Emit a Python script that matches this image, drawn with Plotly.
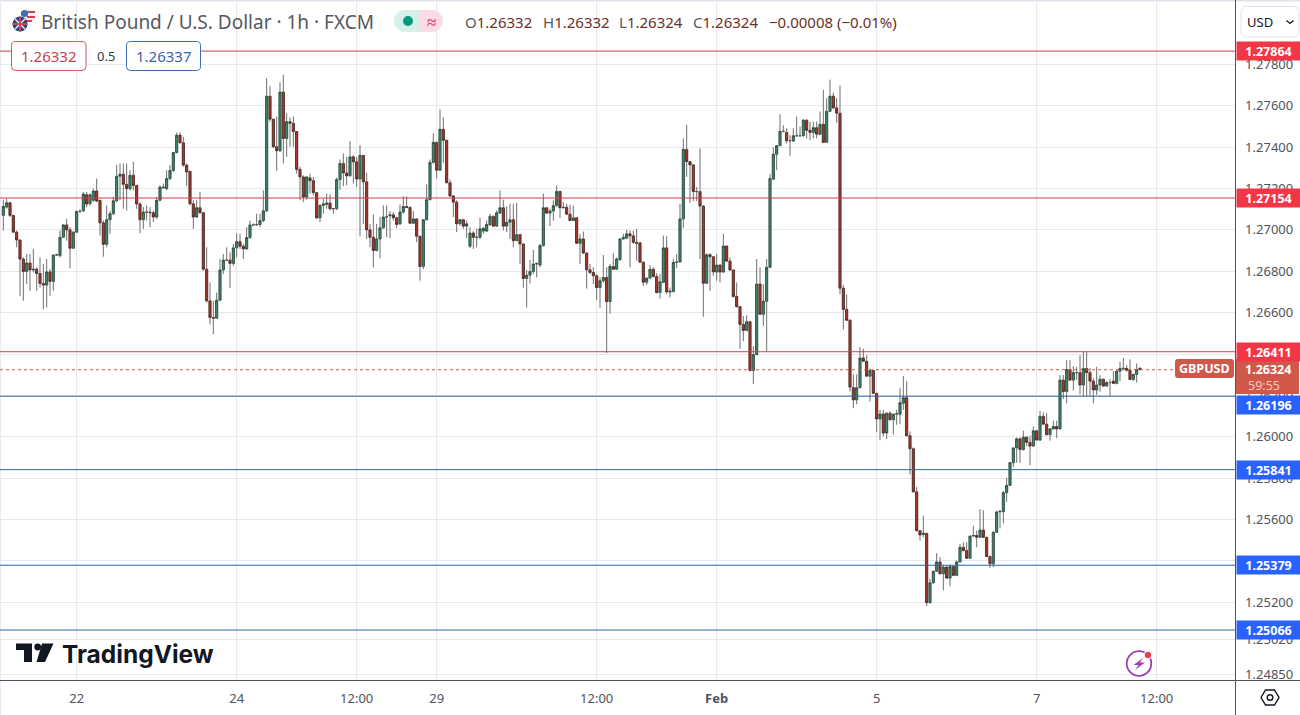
import plotly.graph_objects as go

opens = [
    1.27070,1.27110,1.27131,1.27070,1.26989,1.26951,1.26859,1.26799,1.26840,1.26806,
    1.26810,1.26789,1.26741,1.26733,1.26797,1.26751,1.26878,1.26875,1.26964,1.27024,
    1.27000,1.26911,1.26989,1.27089,1.27092,1.27170,1.27126,1.27143,1.27188,1.27143,
    1.27034,1.26930,1.27049,1.27078,1.27141,1.27259,1.27269,1.27220,1.27199,1.27264,
    1.27215,1.27125,1.27049,1.27086,1.27086,1.27083,1.27062,1.27143,1.27207,1.27199,
    1.27248,1.27287,1.27374,1.27458,1.27421,1.27313,1.27283,1.27126,1.27062,1.27107,
    1.27083,1.26810,1.26657,1.26576,1.26573,1.26660,1.26806,1.26854,1.26854,1.26838,
    1.26913,1.26943,1.26921,1.26908,1.26963,1.27024,1.27024,1.27026,1.27045,1.27092,
    1.27646,1.27535,1.27402,1.27382,1.27666,1.27442,1.27523,1.27515,1.27475,1.27292,
    1.27256,1.27159,1.27251,1.27238,1.27180,1.27058,1.27118,1.27123,1.27130,1.27102,
    1.27102,1.27243,1.27321,1.27275,1.27261,1.27353,1.27329,1.27246,1.27360,1.27232,
    1.27000,1.26964,1.26900,1.26956,1.27010,1.27062,1.27068,1.27073,1.27058,1.27029,
    1.27086,1.27113,1.27108,1.27032,1.27053,1.26969,1.26823,1.27049,1.27146,1.27326,
    1.27423,1.27288,1.27486,1.27433,1.27228,1.27164,1.27134,1.27029,1.27049,1.27018,
    1.26921,1.26985,1.26964,1.26964,1.26994,1.26994,1.27024,1.27065,1.27018,1.27081,
    1.27107,1.27018,1.27037,1.27049,1.26948,1.26977,1.26932,1.26765,1.26781,1.26799,
    1.26835,1.26830,1.26924,1.27107,1.27081,1.27091,1.27117,1.27186,1.27107,1.27109,
    1.27076,1.27045,1.27058,1.26935,1.26956,1.26888,1.26807,1.26794,1.26778,1.26721,
    1.26754,1.26770,1.26653,1.26823,1.26810,1.26856,1.26956,1.26960,1.26981,1.26971,
    1.26940,1.26937,1.26844,1.26747,1.26767,1.26810,1.26775,1.26697,1.26746,1.26913,
    1.26699,1.26702,1.26843,1.26845,1.27053,1.27389,1.27330,1.27314,1.27185,1.27185,
    1.27115,1.26742,1.26880,1.26870,1.26796,1.26830,1.26796,1.26922,1.26849,1.26806,
    1.26678,1.26629,1.26543,1.26514,1.26556,1.26320,1.26397,1.26738,1.26592,1.26655,
    1.26819,1.27245,1.27365,1.27407,1.27476,1.27471,1.27431,1.27429,1.27455,1.27455,
    1.27455,1.27530,1.27481,1.27471,1.27494,1.27462,1.27510,1.27423,1.27573,1.27646,
    1.27590,1.27564,1.26718,1.26616,1.26563,1.26238,1.26178,1.26237,1.26381,1.26365,
    1.26293,1.26320,1.26210,1.26086,1.26110,1.26018,1.26114,1.26082,1.26109,1.26109,
    1.26162,1.26189,1.26005,1.25942,1.25734,1.25546,1.25527,1.25533,1.25198,1.25294,
    1.25350,1.25395,1.25338,1.25370,1.25317,1.25373,1.25330,1.25395,1.25466,1.25450,
    1.25413,1.25520,1.25523,1.25514,1.25549,1.25514,1.25421,1.25386,1.25538,1.25637,
    1.25638,1.25730,1.25765,1.25875,1.25946,1.25990,1.25938,1.25998,1.25973,1.25955,
    1.26029,1.25984,1.26099,1.26061,1.26010,1.26038,1.26050,1.26038,1.26274,1.26219,
    1.26325,1.26274,1.26310,1.26310,1.26250,1.26330,1.26310,1.26269,1.26226,1.26250,
    1.26278,1.26245,1.26262,1.26269,1.26258,1.26317,1.26330,1.26330,1.26322,1.26277,
    1.26301,1.26332,
]
closes = [
    1.27113,1.27131,1.27070,1.26989,1.26951,1.26859,1.26799,1.26840,1.26806,1.26810,
    1.26789,1.26741,1.26733,1.26797,1.26751,1.26878,1.26880,1.26964,1.27024,1.27000,
    1.26911,1.26989,1.27089,1.27090,1.27173,1.27125,1.27170,1.27188,1.27139,1.27034,
    1.26930,1.27049,1.27078,1.27141,1.27259,1.27269,1.27220,1.27199,1.27264,1.27215,
    1.27125,1.27049,1.27086,1.27086,1.27083,1.27062,1.27143,1.27207,1.27204,1.27248,
    1.27287,1.27374,1.27458,1.27421,1.27313,1.27280,1.27126,1.27062,1.27107,1.27083,
    1.26810,1.26657,1.26576,1.26573,1.26660,1.26806,1.26854,1.26854,1.26838,1.26913,
    1.26943,1.26921,1.26908,1.26963,1.27024,1.27024,1.27026,1.27045,1.27092,1.27646,
    1.27535,1.27402,1.27382,1.27666,1.27442,1.27523,1.27515,1.27475,1.27292,1.27256,
    1.27159,1.27256,1.27238,1.27180,1.27058,1.27118,1.27126,1.27130,1.27102,1.27102,
    1.27243,1.27321,1.27275,1.27261,1.27353,1.27329,1.27246,1.27360,1.27232,1.27000,
    1.26964,1.26900,1.26956,1.27010,1.27062,1.27063,1.27073,1.27058,1.27026,1.27086,
    1.27113,1.27108,1.27032,1.27053,1.26969,1.26823,1.27049,1.27146,1.27326,1.27423,
    1.27288,1.27486,1.27433,1.27228,1.27164,1.27134,1.27029,1.27049,1.27018,1.27029,
    1.26985,1.26964,1.26964,1.27005,1.27008,1.27026,1.27065,1.27018,1.27083,1.27107,
    1.27018,1.27037,1.27049,1.26948,1.26977,1.26932,1.26765,1.26781,1.26799,1.26835,
    1.26837,1.26924,1.27107,1.27081,1.27091,1.27117,1.27186,1.27107,1.27109,1.27076,
    1.27045,1.27058,1.26935,1.26956,1.26888,1.26807,1.26794,1.26778,1.26721,1.26754,
    1.26770,1.26653,1.26823,1.26810,1.26859,1.26956,1.26964,1.26981,1.26971,1.26940,
    1.26935,1.26844,1.26747,1.26767,1.26810,1.26775,1.26697,1.26749,1.26913,1.26700,
    1.26704,1.26843,1.26845,1.27053,1.27389,1.27330,1.27314,1.27185,1.27185,1.27115,
    1.26742,1.26880,1.26870,1.26797,1.26830,1.26796,1.26922,1.26849,1.26806,1.26678,
    1.26629,1.26543,1.26514,1.26556,1.26320,1.26397,1.26738,1.26592,1.26655,1.26819,
    1.27248,1.27365,1.27407,1.27476,1.27476,1.27431,1.27431,1.27455,1.27455,1.27455,
    1.27530,1.27481,1.27471,1.27494,1.27462,1.27510,1.27423,1.27573,1.27646,1.27590,
    1.27564,1.26718,1.26616,1.26563,1.26240,1.26178,1.26237,1.26381,1.26365,1.26293,
    1.26320,1.26210,1.26086,1.26110,1.26018,1.26114,1.26082,1.26109,1.26112,1.26165,
    1.26189,1.26005,1.25942,1.25734,1.25546,1.25525,1.25534,1.25198,1.25294,1.25350,
    1.25395,1.25338,1.25370,1.25317,1.25373,1.25330,1.25395,1.25466,1.25450,1.25413,
    1.25520,1.25523,1.25514,1.25549,1.25514,1.25421,1.25386,1.25538,1.25637,1.25640,
    1.25730,1.25765,1.25875,1.25946,1.25990,1.25938,1.25998,1.25973,1.25955,1.26029,
    1.25984,1.26099,1.26061,1.26010,1.26038,1.26050,1.26038,1.26274,1.26219,1.26325,
    1.26274,1.26310,1.26310,1.26250,1.26330,1.26310,1.26269,1.26226,1.26250,1.26278,
    1.26245,1.26262,1.26262,1.26258,1.26317,1.26330,1.26331,1.26322,1.26277,1.26301,
    1.26325,1.26324,
]
highs = [
    1.27146,1.27151,1.27134,1.27070,1.26997,1.26951,1.26867,1.26883,1.26883,1.26908,
    1.26819,1.26867,1.26835,1.26859,1.26810,1.26883,1.26885,1.26997,1.27029,1.27053,
    1.27013,1.26995,1.27094,1.27100,1.27183,1.27183,1.27175,1.27199,1.27248,1.27143,
    1.27045,1.27118,1.27091,1.27159,1.27313,1.27321,1.27321,1.27321,1.27288,1.27329,
    1.27215,1.27134,1.27110,1.27118,1.27110,1.27094,1.27159,1.27215,1.27224,1.27288,
    1.27313,1.27377,1.27470,1.27471,1.27450,1.27321,1.27283,1.27143,1.27143,1.27183,
    1.27086,1.26916,1.26746,1.26657,1.26697,1.26859,1.26883,1.26916,1.26891,1.26932,
    1.26984,1.26981,1.26932,1.27013,1.27045,1.27032,1.27078,1.27078,1.27191,1.27734,
    1.27697,1.27535,1.27548,1.27713,1.27750,1.27564,1.27544,1.27548,1.27475,1.27305,
    1.27264,1.27256,1.27272,1.27256,1.27183,1.27123,1.27150,1.27175,1.27172,1.27105,
    1.27253,1.27340,1.27369,1.27353,1.27429,1.27361,1.27353,1.27410,1.27361,1.27275,
    1.27029,1.27075,1.27029,1.27062,1.27118,1.27118,1.27091,1.27086,1.27062,1.27122,
    1.27162,1.27162,1.27115,1.27091,1.27053,1.26972,1.27049,1.27220,1.27340,1.27467,
    1.27426,1.27583,1.27544,1.27435,1.27243,1.27167,1.27143,1.27049,1.27053,1.27045,
    1.27013,1.26994,1.27005,1.27058,1.27013,1.27045,1.27078,1.27070,1.27094,1.27191,
    1.27146,1.27113,1.27126,1.27126,1.27131,1.26981,1.26932,1.26806,1.26854,1.26903,
    1.26843,1.26932,1.27175,1.27110,1.27102,1.27143,1.27215,1.27186,1.27134,1.27126,
    1.27122,1.27118,1.27062,1.26981,1.26992,1.26891,1.26835,1.26819,1.26786,1.26770,
    1.26879,1.26819,1.26835,1.26887,1.26867,1.26960,1.26981,1.27000,1.26997,1.26997,
    1.27005,1.26943,1.26844,1.26770,1.26830,1.26819,1.26791,1.26786,1.26972,1.26969,
    1.26721,1.26859,1.26883,1.27126,1.27442,1.27507,1.27333,1.27317,1.27207,1.27394,
    1.27118,1.26887,1.26887,1.26870,1.26883,1.26832,1.26981,1.26922,1.26867,1.26806,
    1.26746,1.26632,1.26584,1.26587,1.26559,1.26438,1.26859,1.26819,1.26738,1.26859,
    1.27269,1.27399,1.27410,1.27559,1.27505,1.27491,1.27458,1.27491,1.27548,1.27499,
    1.27535,1.27535,1.27523,1.27523,1.27523,1.27572,1.27677,1.27637,1.27726,1.27664,
    1.27637,1.27697,1.26734,1.26689,1.26568,1.26302,1.26302,1.26434,1.26426,1.26394,
    1.26330,1.26322,1.26212,1.26130,1.26130,1.26118,1.26122,1.26112,1.26130,1.26237,
    1.26293,1.26269,1.26026,1.25949,1.25758,1.25549,1.25618,1.25536,1.25314,1.25353,
    1.25438,1.25418,1.25382,1.25378,1.25382,1.25376,1.25402,1.25482,1.25490,1.25490,
    1.25522,1.25570,1.25546,1.25650,1.25645,1.25517,1.25426,1.25543,1.25642,1.25645,
    1.25738,1.25802,1.25878,1.25949,1.25997,1.25997,1.26029,1.26002,1.26005,1.26050,
    1.26034,1.26125,1.26118,1.26114,1.26042,1.26078,1.26077,1.26298,1.26298,1.26370,
    1.26370,1.26342,1.26338,1.26394,1.26410,1.26413,1.26333,1.26282,1.26338,1.26298,
    1.26282,1.26269,1.26278,1.26317,1.26322,1.26362,1.26381,1.26346,1.26374,1.26306,
    1.26354,1.26332,
]
lows = [
    1.26997,1.27102,1.27062,1.26985,1.26916,1.26681,1.26657,1.26738,1.26705,1.26794,
    1.26705,1.26721,1.26616,1.26624,1.26681,1.26705,1.26875,1.26867,1.26961,1.26948,
    1.26814,1.26908,1.26984,1.27080,1.27086,1.27110,1.27118,1.27134,1.27134,1.26972,
    1.26870,1.26916,1.26981,1.27073,1.27134,1.27143,1.27102,1.27094,1.27191,1.27191,
    1.27102,1.26984,1.27005,1.27045,1.27013,1.27037,1.27053,1.27138,1.27199,1.27191,
    1.27240,1.27280,1.27369,1.27418,1.27305,1.27211,1.27118,1.27005,1.27058,1.27078,
    1.26802,1.26648,1.26543,1.26495,1.26572,1.26657,1.26786,1.26851,1.26718,1.26827,
    1.26867,1.26908,1.26859,1.26903,1.26956,1.27018,1.27020,1.27013,1.27037,1.27086,
    1.27523,1.27394,1.27285,1.27377,1.27321,1.27353,1.27402,1.27402,1.27272,1.27143,
    1.27134,1.27146,1.27175,1.27167,1.27053,1.27037,1.27078,1.27102,1.27094,1.27078,
    1.27097,1.27194,1.27211,1.27215,1.27259,1.27224,1.27207,1.26968,1.27029,1.26956,
    1.26916,1.26819,1.26896,1.26862,1.27005,1.26964,1.26960,1.27045,1.27008,1.27024,
    1.27078,1.27105,1.27029,1.27029,1.26940,1.26754,1.26810,1.27045,1.27143,1.27321,
    1.27248,1.27285,1.27324,1.27224,1.27159,1.27062,1.26989,1.27021,1.27005,1.26960,
    1.26911,1.26908,1.26916,1.26956,1.26981,1.26989,1.27021,1.27013,1.27015,1.27078,
    1.26997,1.26989,1.26956,1.26916,1.26945,1.26835,1.26721,1.26624,1.26741,1.26786,
    1.26770,1.26819,1.26919,1.27078,1.27018,1.27045,1.27113,1.27057,1.27102,1.27073,
    1.27042,1.27042,1.26932,1.26835,1.26883,1.26716,1.26786,1.26738,1.26661,1.26624,
    1.26745,1.26405,1.26595,1.26805,1.26805,1.26851,1.26953,1.26955,1.26819,1.26932,
    1.26851,1.26839,1.26729,1.26734,1.26762,1.26770,1.26692,1.26668,1.26746,1.26689,
    1.26673,1.26697,1.26815,1.26843,1.27008,1.27256,1.27131,1.27139,1.27139,1.26859,
    1.26580,1.26737,1.26705,1.26778,1.26754,1.26746,1.26794,1.26847,1.26803,1.26673,
    1.26624,1.26425,1.26462,1.26510,1.26317,1.26255,1.26394,1.26589,1.26535,1.26414,
    1.26816,1.27240,1.27288,1.27405,1.27471,1.27418,1.27358,1.27426,1.27450,1.27450,
    1.27450,1.27442,1.27434,1.27442,1.27442,1.27458,1.27421,1.27421,1.27571,1.27583,
    1.27518,1.26689,1.26519,1.26560,1.26219,1.26138,1.26157,1.26234,1.26362,1.26291,
    1.26170,1.26208,1.26022,1.25984,1.26002,1.25989,1.26080,1.26010,1.26058,1.26061,
    1.26130,1.26002,1.25818,1.25730,1.25542,1.25498,1.25514,1.25181,1.25194,1.25290,
    1.25348,1.25334,1.25258,1.25314,1.25277,1.25326,1.25326,1.25394,1.25446,1.25410,
    1.25410,1.25518,1.25466,1.25510,1.25514,1.25418,1.25366,1.25370,1.25535,1.25557,
    1.25581,1.25685,1.25762,1.25853,1.25874,1.25874,1.25933,1.25954,1.25862,1.25952,
    1.25981,1.25981,1.26058,1.26006,1.25981,1.26034,1.25994,1.26038,1.26182,1.26162,
    1.26270,1.26224,1.26274,1.26205,1.26197,1.26194,1.26194,1.26162,1.26202,1.26218,
    1.26242,1.26242,1.26198,1.26256,1.26253,1.26269,1.26326,1.26314,1.26274,1.26270,
    1.26262,1.26324,
]
assert len(opens) == len(closes) == len(highs) == len(lows)

bars = list(range(len(opens)))
x_tick_bars = [22, 70, 106, 130, 178, 214, 262, 310, 346]
x_tick_text = ["22", "24", "12:00", "29", "12:00", "<b>Feb</b>", "5", "7", "12:00"]
y_ticks = [1.278, 1.276, 1.274, 1.272, 1.27, 1.268, 1.266, 1.264, 1.262, 1.26,
           1.258, 1.256, 1.254, 1.252, 1.2502, 1.2485]
red_levels = [1.27864, 1.27154, 1.26411]
blue_levels = [1.26196, 1.25841, 1.25379, 1.25066]
last_price = 1.26324

W = 1300
H = 715
FIG_H = 718
PLOT_R = 1235.5
PLOT_B = 680.5
GRID = "#e8e9ed"
TEXT = "#50535e"
FONT = "Noto Sans"


def px(x):
    return x / W


def py(y):
    return 1 - y / H


def poly(points, fill, line=None, width=1, closed=True):
    path = "M " + " L ".join("%.5f,%.5f" % (px(a), py(b)) for a, b in points)
    if closed:
        path += " Z"
    return dict(type="path", xref="paper", yref="paper", path=path,
                fillcolor=fill, line=dict(color=line or "rgba(0,0,0,0)", width=width))


def rrect(x0, y0, x1, y1, r, fill, line=None, width=1):
    def p(a, b):
        return "%.5f,%.5f" % (px(a), py(b))
    path = ("M " + p(x0 + r, y0) + " L " + p(x1 - r, y0) + " Q " + p(x1, y0) + " " + p(x1, y0 + r)
            + " L " + p(x1, y1 - r) + " Q " + p(x1, y1) + " " + p(x1 - r, y1)
            + " L " + p(x0 + r, y1) + " Q " + p(x0, y1) + " " + p(x0, y1 - r)
            + " L " + p(x0, y0 + r) + " Q " + p(x0, y0) + " " + p(x0 + r, y0) + " Z")
    return dict(type="path", xref="paper", yref="paper", path=path, fillcolor=fill,
                line=dict(color=line or "rgba(0,0,0,0)", width=width))


def circle(cx, cy, r, fill, line=None, width=1):
    return dict(type="circle", xref="paper", yref="paper", x0=px(cx - r), x1=px(cx + r),
                y0=py(cy + r), y1=py(cy - r), fillcolor=fill,
                line=dict(color=line or "rgba(0,0,0,0)", width=width))


def rect(x0, y0, x1, y1, fill):
    return dict(type="rect", xref="paper", yref="paper", x0=px(x0), x1=px(x1), y0=py(y1), y1=py(y0),
                fillcolor=fill, line=dict(width=0))


def seg(x0, y0, x1, y1, color, width=1):
    return dict(type="line", xref="paper", yref="paper", x0=px(x0), x1=px(x1), y0=py(y0), y1=py(y1),
                line=dict(color=color, width=width))


def label(x, y, text, size, color, anchor="left", family=FONT):
    return dict(xref="paper", yref="paper", x=px(x), y=py(y), text=text, showarrow=False,
                xanchor=anchor, yanchor="middle", font=dict(family=family, size=size, color=color))


def tag(level, color, shift=0):
    return dict(xref="paper", yref="y", x=px(1236), y=level, text="<b>%.5f</b>" % level, showarrow=False,
                xanchor="left", yanchor="middle", width=63, height=18, bgcolor=color, borderpad=0,
                yshift=shift, font=dict(family=FONT, size=12.5, color="white"))


# wicks go in a separate trace so they can stay grey while the body outlines are dark
wick_x = []
wick_y = []
for i in bars:
    wick_x += [i, i, None, i, i, None]
    wick_y += [highs[i], max(opens[i], closes[i]), None, min(opens[i], closes[i]), lows[i], None]

fig = go.Figure()
fig.add_trace(go.Candlestick(
    x=bars,
    open=opens,
    high=[max(o, c) for o, c in zip(opens, closes)],
    low=[min(o, c) for o, c in zip(opens, closes)],
    close=closes,
    whiskerwidth=0,
    increasing=dict(line=dict(color="#2f4f42", width=1), fillcolor="#3f8a6c"),
    decreasing=dict(line=dict(color="#4f2a24", width=1), fillcolor="#b03a2c"),
    hoverinfo="skip",
    showlegend=False,
))
fig.add_trace(go.Scatter(x=wick_x, y=wick_y, mode="lines", line=dict(color="#6f6f6f", width=1),
                         hoverinfo="skip", showlegend=False))

shapes = []
shapes.append(rect(0, 0, W, 1.5, "#e0e3eb"))
shapes.append(rect(0, 0, 1, H, "#e8eaef"))
shapes.append(dict(type="line", xref="paper", yref="y", x0=0, x1=px(PLOT_R), y0=last_price, y1=last_price,
                   line=dict(color="#c0604f", width=1, dash="dot")))
for v in red_levels:
    shapes.append(dict(type="line", xref="paper", yref="y", x0=0, x1=px(PLOT_R), y0=v, y1=v,
                       line=dict(color="#c9404c", width=1)))
for v in blue_levels:
    shapes.append(dict(type="line", xref="paper", yref="y", x0=0, x1=px(PLOT_R), y0=v, y1=v,
                       line=dict(color="#2a6aa8", width=1)))
shapes.append(seg(0, PLOT_B, W, PLOT_B, "#50535e", 1))
shapes.append(seg(PLOT_R, 0, PLOT_R, H, "#50535e", 1))

# flags
shapes.append(circle(28, 16, 7, "#f4f4f6"))
shapes.append(rect(26, 11, 35, 13, "#d8424e"))
shapes.append(rect(27, 16, 35, 18, "#d8424e"))
shapes.append(rect(24, 20, 32, 22, "#d8424e"))
shapes.append(circle(24.5, 13.5, 3.6, "#3f6fb5"))
shapes.append(circle(20, 24, 7.5, "#2a3f84"))
shapes.append(seg(15, 19, 25, 29, "#f0f0f0", 1.5))
shapes.append(seg(25, 19, 15, 29, "#f0f0f0", 1.5))
shapes.append(seg(20, 16.5, 20, 31.5, "#d8424e", 2))
shapes.append(seg(12.5, 24, 27.5, 24, "#d8424e", 2))

# market status pill
shapes.append(circle(405, 21, 11, "#d6efe9"))
shapes.append(rect(405, 10, 419, 32, "#d6efe9"))
shapes.append(circle(432, 21, 11, "#fbdce6"))
shapes.append(rect(419, 10, 432, 32, "#fbdce6"))
shapes.append(circle(408, 21, 5, "#089981"))

# order boxes sitting on the top line
shapes.append(rect(11, 44, 127, 58, "white"))
shapes.append(rrect(11.5, 41.5, 86, 70.5, 4, "white", "#d0555f", 1))
shapes.append(rrect(126.5, 41.5, 200.5, 70.5, 4, "white", "#3d6cb0", 1))

# currency box
shapes.append(rrect(1241, 6.5, 1299, 37, 6, "white", "#e0e3eb", 1))
shapes.append(poly([(1286.5, 20.5), (1290, 23.5), (1293.5, 20.5)], "rgba(0,0,0,0)", "#131722", 1.3, closed=False))

# current price tags
shapes.append(rrect(1175, 359, 1234, 378, 3, "#d0584a"))
shapes.append(rect(1236, 359, 1299, 394, "#d0584a"))

# TradingView logo
shapes.append(poly([(16, 643.5), (32, 643.5), (32, 662), (24, 662), (24, 650), (16, 650)], "#131722"))
shapes.append(circle(37.7, 647, 3.4, "#131722"))
shapes.append(poly([(42, 643.5), (53.5, 643.5), (45, 662), (36.5, 662)], "#131722"))

# lightning icon
shapes.append(circle(1139, 663.5, 12.3, "white", "#9c3fb0", 1.8))
shapes.append(poly([(1143, 658), (1133.5, 665), (1138.5, 665), (1135, 670), (1145, 662.5), (1140, 662.5)], "#9c3fb0"))
shapes.append(circle(1148, 655, 3.8, "#e0404c", "white", 1))

# settings icon
shapes.append(poly([(1261, 697.5), (1265.5, 690), (1274.5, 690), (1279, 697.5), (1274.5, 705), (1265.5, 705)],
                   "white", "#131722", 1.4))
shapes.append(circle(1270, 697.5, 2.8, "white", "#131722", 1.4))

anns = []
anns.append(label(39, 22, "British Pound / U.S. Dollar · 1h · FXCM", 19, "#555860"))
anns.append(label(431, 21.5, "<b>≈</b>", 17, "#e0457b", "center"))
ohlc_color = "#6d2f2b"
anns.append(label(463, 21.5, '<span style="color:#555860">O</span>1.26332', 15, ohlc_color))
anns.append(label(541, 21.5, '<span style="color:#555860">H</span>1.26332', 15, ohlc_color))
anns.append(label(617, 21.5, '<span style="color:#555860">L</span>1.26324', 15, ohlc_color))
anns.append(label(691, 21.5, '<span style="color:#555860">C</span>1.26324', 15, ohlc_color))
anns.append(label(767, 21.5, "−0.00008 (−0.01%)", 15, ohlc_color))
anns.append(label(48.5, 56, "1.26332", 15, "#c4424e", "center"))
anns.append(label(106, 56, "0.5", 13, "#3a3a3a", "center"))
anns.append(label(163.5, 56, "1.26337", 15, "#3d62b0", "center"))
anns.append(label(1245, 21.5, "USD", 13, "#131722"))
anns.append(label(60, 654, "<b>TradingView</b>", 24.5, "#131722", family="Inter"))
anns.append(label(1204.5, 368.5, "<b>GBPUSD</b>", 12.5, "white", "center"))
anns.append(label(1267.5, 369, "<b>%.5f</b>" % last_price, 12.5, "white", "center"))
anns.append(label(1246, 385, "59:55", 12.5, "#f7c9bd"))
for v in red_levels:
    anns.append(tag(v, "#f23645"))
for v in blue_levels:
    # this tag is pushed down by the price tag above it
    anns.append(tag(v, "#2962ff", -8.5 if v == 1.26196 else 0))

fig.update_layout(
    width=W,
    height=FIG_H,
    autosize=False,
    margin=dict(l=0, r=0, t=0, b=0),
    paper_bgcolor="white",
    plot_bgcolor="white",
    dragmode=False,
    showlegend=False,
    shapes=shapes,
    annotations=anns,
    boxgap=0.1,
    font=dict(family=FONT),
    xaxis=dict(
        domain=[0, PLOT_R / W],
        range=[-1, 369.65],
        tickmode="array",
        tickvals=x_tick_bars,
        ticktext=x_tick_text,
        tickfont=dict(family=FONT, size=13, color=TEXT),
        ticks="outside",
        ticklen=6,
        tickwidth=0,
        tickcolor="rgba(0,0,0,0)",
        showgrid=True,
        gridcolor=GRID,
        gridwidth=1,
        zeroline=False,
        rangeslider=dict(visible=False),
    ),
    yaxis=dict(
        domain=[1 - PLOT_B / H, 1],
        range=[1.24822, 1.28111],
        side="right",
        tickmode="array",
        tickvals=y_ticks,
        ticktext=["%.5f" % v for v in y_ticks],
        tickfont=dict(family=FONT, size=13, color=TEXT),
        ticks="outside",
        ticklen=6,
        tickwidth=0,
        tickcolor="rgba(0,0,0,0)",
        showgrid=True,
        gridcolor=GRID,
        gridwidth=1,
        zeroline=False,
    ),
)

fig.write_html("out.html", config={"displayModeBar": False},
               post_script="document.body.style.margin='0';document.body.style.overflow='hidden';")
